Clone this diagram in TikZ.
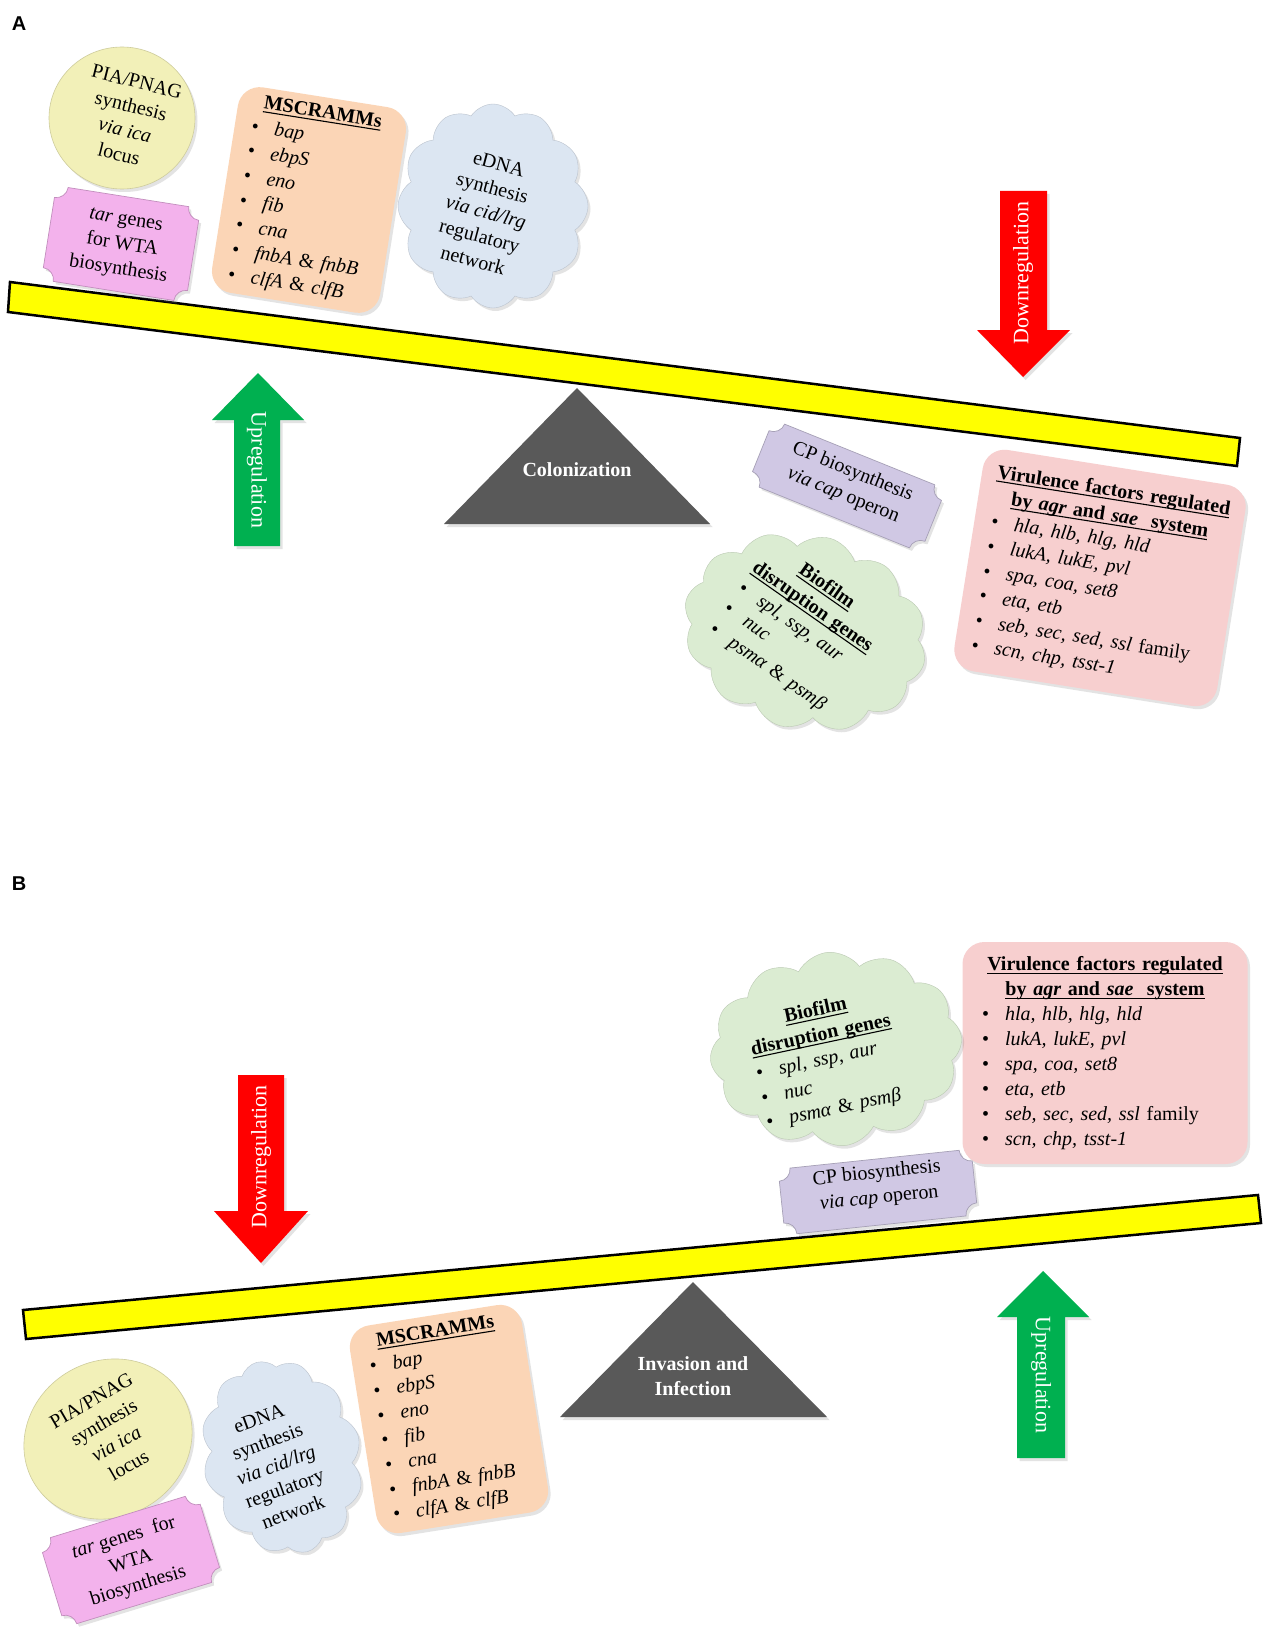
\documentclass[tikz,border=0pt]{standalone}
\usepackage{fontspec}
\setmainfont{Liberation Serif}
\newfontfamily\lblfont{Liberation Sans}
\usetikzlibrary{shapes.symbols,shadows}

\definecolor{piaY}{RGB}{242,240,184}
\definecolor{tarP}{RGB}{243,178,236}
\definecolor{mscO}{RGB}{251,213,182}
\definecolor{ednaB}{RGB}{220,230,242}
\definecolor{cpV}{RGB}{208,200,228}
\definecolor{virP}{RGB}{247,207,207}
\definecolor{bioG}{RGB}{219,236,210}
\definecolor{upG}{RGB}{0,176,80}
\definecolor{dnR}{RGB}{255,0,0}
\definecolor{triG}{RGB}{89,89,89}
\definecolor{beamY}{RGB}{255,255,0}

\newsavebox\ulnbox
\newcommand\ulnx[1]{\sbox\ulnbox{#1}\leavevmode\rlap{\rule[-3.5pt]{\wd\ulnbox}{1.1pt}}\usebox\ulnbox}
\newcommand\gbul[1]{\hspace*{8pt}\textbullet\hspace{16pt}#1}
\newcommand\plaquebox[6]{%
 \begin{scope}[shift={(#2,#3)},rotate=#4]
 \path[fill=#1, draw=#1!80!black, line width=0.7pt, shd]
  ({-(#5)/2+12},{-(#6)/2}) -- ({(#5)/2-12},{-(#6)/2})
  arc[start angle=180,end angle=90,radius=12]
  -- ({(#5)/2},{(#6)/2-12})
  arc[start angle=270,end angle=180,radius=12]
  -- ({-(#5)/2+12},{(#6)/2})
  arc[start angle=0,end angle=-90,radius=12]
  -- ({-(#5)/2},{-(#6)/2+12})
  arc[start angle=90,end angle=0,radius=12]
  -- cycle;
 \end{scope}}

\begin{document}
\begin{tikzpicture}[x=1pt,y=-1pt,
  txt/.style={font=\fontsize{20}{25}\selectfont, align=center, inner sep=0pt},
  shd/.style={drop shadow={shadow xshift=2.5pt,shadow yshift=-3pt,opacity=0.22}},
  rbox/.style={rectangle, rounded corners=22pt, inner sep=0pt, font=\fontsize{20}{25}\selectfont, align=left, shd},
  cloudbg/.style={cloud, cloud puffs=12, cloud puff arc=115, cloud ignores aspect, inner sep=0pt, shd},
  beam/.style={fill=beamY, draw=black, line width=2.5pt, line join=miter},
  arrw/.style={font=\fontsize{22}{26}\selectfont, text=white, inner sep=0pt},
  tri/.style={fill=triG, shd},
  tritxt/.style={font=\bfseries\fontsize{20}{25}\selectfont, text=white, align=center, inner sep=0pt},
  lbl/.style={font=\lblfont\bfseries\fontsize{20}{24}\selectfont, inner sep=0pt}
]
\useasboundingbox (0,0) rectangle (1269,1637);
\fill[white] (0,0) rectangle (1269,1637);

% ================= Panel A =================
\node[lbl] (lblA) at (19,24) {A};

% beam A
\path[beam] (10,282) -- (1240,438) -- (1237,466) -- (8,312) -- cycle;

% PIA/PNAG ellipse
\path[fill=piaY, draw=piaY!85!black, line width=0.6pt, shd] (122,118) ellipse [x radius=73, y radius=71];
\node[txt, rotate=-14] (piaA) at (128,118) {PIA/PNAG\\synthesis\\\textit{via ica}\\locus};

% tar genes plaque
\plaquebox{tarP}{121}{244}{-9}{146}{95}
\node[txt, rotate=-9] (tarA) at (122,246) {\textit{tar} genes\\for WTA\\biosynthesis};

% MSCRAMMs
\node[rbox, fill=mscO, rotate=-9, minimum width=170pt, minimum height=208pt, text width=152pt] (mscA) at (309,200)
 {\makebox[\linewidth]{\ulnx{\textbf{MSCRAMMs}}}\\
  \gbul{\textit{bap}}\\ \gbul{\textit{ebpS}}\\ \gbul{\textit{eno}}\\ \gbul{\textit{fib}}\\ \gbul{\textit{cna}}\\
  \gbul{\textit{fnbA} \& \textit{fnbB}}\\ \gbul{\textit{clfA} \& \textit{clfB}}};

% eDNA cloud
\node[cloudbg, fill=ednaB, draw=ednaB!85!black, minimum width=190pt, minimum height=204pt] (edAcl) at (493,206) {};
\node[txt, rotate=-15] (edA) at (486,212) {eDNA\\synthesis\\\textit{via cid/lrg}\\regulatory\\network};

% arrows A
\path[fill=dnR, shd] (1000,191) -- (1047,191) -- (1047,330) -- (1070,330) -- (1023,377) -- (977,330) -- (1000,330) -- cycle;
\node[arrw, rotate=90] (dnA) at (1023,273) {Downregulation};
\path[fill=upG, shd] (234,546) -- (234,420) -- (212,420) -- (258,373) -- (304,420) -- (280,420) -- (280,546) -- cycle;
\node[arrw, rotate=-90] (upA) at (257,470) {Upregulation};

% triangle A
\path[tri] (577,388) -- (710,524) -- (444,524) -- cycle;
\node[tritxt] (colA) at (577,470) {Colonization};

% CP plaque A
\plaquebox{cpV}{847}{486}{-22}{186}{68}
\node[txt, rotate=-22] (cpA) at (848,484) {CP biosynthesis\\\textit{via cap} operon};

% Virulence A
\node[rbox, fill=virP, rotate=-9, minimum width=266pt, minimum height=224pt, text width=248pt] (virA) at (1100,578)
 {\makebox[\linewidth]{\ulnx{\textbf{Virulence factors regulated}}}\\
  \makebox[\linewidth]{\ulnx{\textbf{by \textit{agr} and \textit{sae}\ \ system}}}\\
  \gbul{\textit{hla, hlb, hlg, hld}}\\ \gbul{\textit{lukA, lukE, pvl}}\\ \gbul{\textit{spa, coa, set8}}\\
  \gbul{\textit{eta, etb}}\\ \gbul{\textit{seb, sec, sed, ssl} family}\\ \gbul{\textit{scn, chp, tsst-1}}};

% Biofilm cloud A
\node[cloudbg, fill=bioG, draw=bioG!85!black, rotate=-15, minimum width=246pt, minimum height=194pt] (bioAcl) at (805,632) {};
\node[txt, align=left, text width=158pt, rotate=-35] (bioA) at (798,628)
 {\makebox[\linewidth]{\ulnx{\textbf{Biofilm}}}\\
  \makebox[\linewidth]{\ulnx{\textbf{disruption genes}}}\\
  \gbul{\textit{spl, ssp, aur}}\\ \gbul{\textit{nuc}}\\ \gbul{\textit{psmα} \& \textit{psmβ}}};

% ================= Panel B =================
\node[lbl] (lblB) at (19,884) {B};

% beam B
\path[beam] (23,1310) -- (1258,1195) -- (1261,1223) -- (26,1339) -- cycle;

% Virulence B
\node[rbox, fill=virP, minimum width=285pt, minimum height=222pt, text width=262pt] (virB) at (1105,1053)
 {\makebox[\linewidth]{\ulnx{\textbf{Virulence factors regulated}}}\\
  \makebox[\linewidth]{\ulnx{\textbf{by \textit{agr} and \textit{sae}\ \ system}}}\\
  \gbul{\textit{hla, hlb, hlg, hld}}\\ \gbul{\textit{lukA, lukE, pvl}}\\ \gbul{\textit{spa, coa, set8}}\\
  \gbul{\textit{eta, etb}}\\ \gbul{\textit{seb, sec, sed, ssl} family}\\ \gbul{\textit{scn, chp, tsst-1}}};

% Biofilm cloud B
\node[cloudbg, fill=bioG, draw=bioG!85!black, rotate=5, minimum width=252pt, minimum height=194pt] (bioBcl) at (836,1049) {};
\node[txt, align=left, text width=158pt, rotate=12] (bioB) at (826,1060)
 {\makebox[\linewidth]{\ulnx{\textbf{Biofilm}}}\\
  \makebox[\linewidth]{\ulnx{\textbf{disruption genes}}}\\
  \gbul{\textit{spl, ssp, aur}}\\ \gbul{\textit{nuc}}\\ \gbul{\textit{psmα} \& \textit{psmβ}}};

% CP plaque B
\plaquebox{cpV}{878}{1192}{6}{194}{66}
\node[txt, rotate=6] (cpB) at (878,1186) {CP biosynthesis\\\textit{via cap} operon};

% arrows B
\path[fill=dnR, shd] (238,1075) -- (284,1075) -- (284,1211) -- (308,1211) -- (261,1263) -- (214,1211) -- (238,1211) -- cycle;
\node[arrw, rotate=90] (dnB) at (261,1157) {Downregulation};
\path[fill=upG, shd] (1017,1458) -- (1017,1317) -- (997,1317) -- (1043,1271) -- (1089,1317) -- (1065,1317) -- (1065,1458) -- cycle;
\node[arrw, rotate=-90] (upB) at (1041,1375) {Upregulation};

% triangle B
\path[tri] (693,1282) -- (827,1417) -- (560,1417) -- cycle;
\node[tritxt] (invB) at (693,1376) {Invasion and\\Infection};

% PIA/PNAG B
\path[fill=piaY, draw=piaY!85!black, line width=0.6pt, shd, rotate around={30:(108,1439)}] (108,1439) ellipse [x radius=86, y radius=78];
\node[txt, rotate=30] (piaB) at (110,1433) {PIA/PNAG\\synthesis\\\textit{via ica}\\locus};

% tar B
\plaquebox{tarP}{131}{1560}{17}{165}{90}
\node[txt, rotate=17] (tarB) at (131,1562) {\textit{tar} genes\ \ for\\WTA\\biosynthesis};

% eDNA B
\node[cloudbg, fill=ednaB, draw=ednaB!85!black, rotate=15, minimum width=158pt, minimum height=196pt] (edBcl) at (282,1457) {};
\node[txt, rotate=20] (edB) at (276,1465) {eDNA\\synthesis\\\textit{via cid/lrg}\\regulatory\\network};

% MSCRAMMs B
\node[rbox, fill=mscO, rotate=9, minimum width=174pt, minimum height=210pt, text width=156pt] (mscB) at (449,1419)
 {\makebox[\linewidth]{\ulnx{\textbf{MSCRAMMs}}}\\
  \gbul{\textit{bap}}\\ \gbul{\textit{ebpS}}\\ \gbul{\textit{eno}}\\ \gbul{\textit{fib}}\\ \gbul{\textit{cna}}\\
  \gbul{\textit{fnbA} \& \textit{fnbB}}\\ \gbul{\textit{clfA} \& \textit{clfB}}};
\end{tikzpicture}
\end{document}
